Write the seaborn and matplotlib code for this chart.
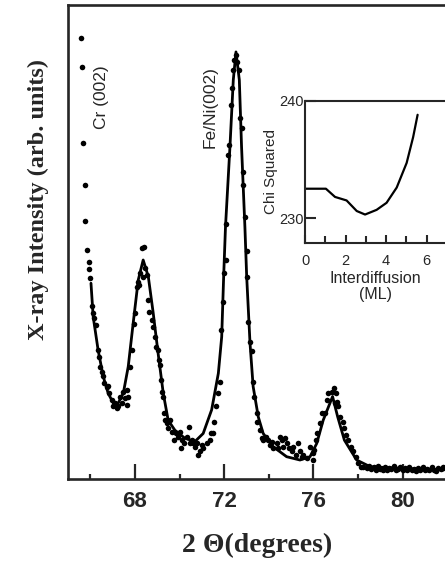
import pandas as pd
import seaborn as sns
import matplotlib.pyplot as plt
from matplotlib.ticker import FixedLocator

sns.set_style("ticks")
plt.rcParams['font.family'] = ['Liberation Sans', 'DejaVu Sans']

# measured scan (2 theta in degrees, intensity in arb. units)
scan_2theta = [65.59, 65.62, 65.67, 65.74, 65.78, 65.87, 65.92, 65.96, 66.00, 66.06,
               66.10, 66.17, 66.25, 66.33, 66.39, 66.44, 66.51, 66.58, 66.62, 66.73,
               66.80, 66.83, 66.96, 67.03, 67.10, 67.18, 67.25, 67.33, 67.40, 67.48,
               67.55, 67.63, 67.63, 67.70, 67.78, 67.85, 67.97, 68.00, 68.08, 68.12,
               68.18, 68.22, 68.30, 68.42, 68.45, 68.37, 68.52, 68.57, 68.63, 68.75,
               68.82, 68.90, 68.94, 69.04, 69.08, 69.12, 69.17, 69.22, 69.27, 69.29,
               69.35, 69.42, 69.49, 69.57, 69.67, 69.76, 69.83, 69.91, 70.02, 70.06,
               70.12, 70.21, 70.32, 70.42, 70.47, 70.54, 70.61, 70.69, 70.77, 70.84,
               70.91, 70.99, 71.06, 71.22, 71.36, 71.41, 71.51, 71.56, 71.62, 71.74,
               71.81, 71.86, 71.93, 72.00, 72.07, 72.08, 72.18, 72.23, 72.29, 72.34,
               72.38, 72.45, 72.53, 72.59, 72.68, 72.71, 72.78, 72.83, 72.86, 72.93,
               73.01, 73.04, 73.08, 73.16, 73.23, 73.28, 73.34, 73.46, 73.48, 73.61,
               73.68, 73.75, 73.87, 73.98, 74.05, 74.13, 74.20, 74.35, 74.43, 74.50,
               74.58, 74.65, 74.73, 74.83, 74.92, 75.03, 75.10, 75.22, 75.32, 75.40,
               75.48, 75.55, 75.70, 75.85, 76.00, 75.97, 76.03, 76.12, 76.18, 76.30,
               76.37, 76.52, 76.60, 76.67, 76.82, 76.92, 77.01, 77.07, 76.98, 77.12,
               77.19, 77.31, 77.37, 77.46, 77.56, 77.67, 77.79, 77.91, 78.01, 78.12,
               78.24, 78.39, 78.50, 78.60, 78.70, 78.80, 78.90, 79.00, 79.10, 79.20,
               79.30, 79.40, 79.50, 79.60, 79.70, 79.80, 79.90, 80.00, 80.10, 80.20,
               80.30, 80.40, 80.50, 80.60, 80.70, 80.80, 80.90, 81.00, 81.10, 81.20,
               81.30, 81.40, 81.50, 81.60, 81.70, 81.80]
scan_counts = [93.0, 87.0, 70.9, 62.0, 54.4, 48.3, 45.8, 44.3, 42.4, 36.4,
               35.0, 33.9, 32.5, 27.2, 25.8, 23.7, 22.6, 21.7, 20.2, 19.5,
               19.7, 18.1, 16.7, 15.3, 16.0, 14.9, 15.3, 17.4, 16.0, 18.4,
               17.0, 18.8, 15.6, 17.4, 23.7, 27.2, 32.8, 35.0, 40.6, 41.6,
               40.9, 43.4, 48.7, 49.0, 44.5, 42.7, 43.0, 37.8, 35.3, 33.5,
               32.1, 30.0, 27.9, 27.2, 25.1, 24.1, 20.9, 18.4, 17.4, 13.9,
               12.4, 11.8, 10.7, 12.4, 10.0, 8.2, 9.6, 8.9, 10.0, 6.5,
               8.2, 7.5, 8.9, 11.0, 7.5, 8.2, 7.5, 6.8, 7.5, 5.1,
               5.8, 7.2, 6.5, 7.5, 8.2, 9.6, 9.6, 12.1, 15.3, 18.1,
               20.5, 31.4, 37.4, 43.4, 46.2, 53.9, 68.4, 70.5, 78.9, 82.4,
               86.3, 88.4, 89.5, 88.0, 86.3, 76.1, 74.0, 64.8, 62.0, 55.3,
               48.0, 42.7, 33.2, 29.0, 26.9, 20.5, 17.4, 13.9, 12.1, 10.3,
               8.6, 8.2, 8.9, 8.2, 7.2, 7.9, 6.5, 7.5, 6.5, 8.9,
               8.2, 6.8, 8.6, 7.5, 6.5, 5.8, 6.8, 5.1, 7.5, 5.8,
               4.7, 5.1, 4.4, 6.8, 4.0, 5.4, 6.1, 8.2, 9.6, 11.8,
               13.9, 13.9, 16.7, 18.1, 18.4, 19.1, 18.1, 16.3, 16.0, 15.3,
               13.1, 12.1, 10.7, 9.3, 8.2, 6.8, 5.8, 4.7, 3.3, 2.6,
               2.6, 2.3, 2.8, 2.1, 2.5, 1.9, 2.7, 2.2, 2.0, 2.6,
               1.8, 2.3, 2.1, 2.7, 1.9, 2.2, 2.5, 1.8, 2.3, 2.0,
               2.6, 1.9, 2.2, 1.7, 2.4, 2.0, 2.5, 1.8, 2.2, 1.9,
               2.6, 2.0, 1.7, 2.3, 2.1, 2.5]

# fitted model curve
fit_2theta = [66.03, 66.13, 66.35, 66.58, 66.80, 67.03, 67.18, 67.25, 67.48, 67.70,
              67.92, 68.15, 68.37, 68.60, 68.82, 69.04, 69.27, 69.49, 69.79, 70.24,
              70.69, 71.06, 71.44, 71.74, 71.89, 71.98, 72.06, 72.26, 72.41, 72.53,
              72.68, 72.78, 72.93, 73.01, 73.16, 73.30, 73.53, 73.75, 74.20, 74.80,
              75.40, 75.85, 76.15, 76.44, 76.86, 77.09, 77.39, 77.94, 78.54, 79.74,
              81.85]
fit_counts = [41.3, 34.2, 27.2, 21.6, 18.1, 16.0, 15.6, 16.0, 18.1, 23.7,
              32.8, 42.0, 46.2, 42.7, 35.0, 26.5, 18.1, 12.4, 10.3, 8.6,
              7.9, 9.6, 14.6, 22.3, 30.0, 43.0, 53.2, 70.1, 84.2, 90.1,
              84.2, 70.1, 53.2, 42.7, 28.6, 19.5, 13.1, 9.6, 6.8, 4.7,
              4.0, 4.7, 7.5, 12.4, 17.4, 13.1, 8.2, 4.0, 2.6, 2.3,
              1.9]

# inset: chi squared vs interdiffusion
chi_interdiff = [0.0, 1.03, 1.48, 2.05, 2.55, 2.96, 3.53, 4.02, 4.52, 5.01, 5.33, 5.55]
chi_sq = [232.5, 232.5, 231.8, 231.5, 230.6, 230.3, 230.7, 231.3, 232.6, 234.7, 236.9, 238.8]

scan = pd.DataFrame({"two_theta": scan_2theta, "counts": scan_counts})
fit = pd.DataFrame({"two_theta": fit_2theta, "counts": fit_counts})
chi = pd.DataFrame({"interdiff": chi_interdiff, "chi": chi_sq})

fig = plt.figure(figsize=(4.45, 5.61), dpi=100)
ax = fig.add_axes([0.1528, 0.1462, 1.0 - 0.1528, 0.8449])

sns.scatterplot(data=scan, x="two_theta", y="counts", ax=ax, color="black",
                s=16, linewidth=0, zorder=3)
sns.lineplot(data=fit, x="two_theta", y="counts", ax=ax, color="black",
             linewidth=2.0, zorder=2)

ax.set_xlim(65.0, 81.9)
ax.set_ylim(0, 100)
ax.set_xlabel("")
ax.set_ylabel("")
ax.set_yticks([])
ax.xaxis.set_major_locator(FixedLocator([68, 72, 76, 80]))
ax.xaxis.set_minor_locator(FixedLocator([66, 70, 74, 78]))
ax.tick_params(axis="x", which="major", direction="in", length=11, width=1.6,
               pad=9, labelsize=16)
ax.tick_params(axis="x", which="minor", direction="in", length=3.6, width=1.6)
for lbl in ax.get_xticklabels():
    lbl.set_fontweight("bold")
for side in ["left", "bottom", "top"]:
    ax.spines[side].set_linewidth(1.9)
ax.spines["right"].set_visible(False)

ax.text(66.5, 80.6, "Cr (002)", rotation=90, ha="center", va="center", fontsize=12.5)
ax.text(71.36, 78.5, "Fe/Ni(002)", rotation=90, ha="center", va="center", fontsize=12.5)

fig.text(38 / 445, 1 - 199 / 561, "X-ray Intensity (arb. units)", rotation=90,
         ha="center", va="center", fontsize=17.5, fontweight="bold",
         family=["Liberation Serif", "DejaVu Serif"])
fig.text(257 / 445, 1 - 545 / 561, "2 \u0398(degrees)", ha="center", va="center",
         fontsize=20, fontweight="bold", family=["Liberation Serif", "DejaVu Serif"])

# inset
ins = fig.add_axes([305 / 445, 1 - 242.7 / 561, 1.0 - 305 / 445, 142 / 561])
sns.lineplot(data=chi, x="interdiff", y="chi", ax=ins, color="black", linewidth=1.6)
ins.set_xlim(0, 6.9)
ins.set_ylim(227.9, 240)
ins.set_xlabel("Interdiffusion\n(ML)", fontsize=11.5, labelpad=2, linespacing=1.1)
ins.set_ylabel("Chi Squared", fontsize=11, labelpad=1)
ins.xaxis.set_major_locator(FixedLocator([0, 2, 4, 6]))
ins.xaxis.set_minor_locator(FixedLocator([1, 3, 5]))
ins.set_yticks([230, 240])
ins.tick_params(axis="x", which="major", direction="in", length=6, width=1.5,
                pad=8, labelsize=10.5)
ins.tick_params(axis="x", which="minor", direction="in", length=5, width=1.5)
ins.tick_params(axis="y", direction="in", length=8, width=1.5, pad=1, labelsize=10.5)
for side in ["left", "bottom", "top"]:
    ins.spines[side].set_linewidth(1.5)
ins.spines["right"].set_visible(False)
ins.patch.set_alpha(0)

fig.savefig("out.png", dpi=100)
